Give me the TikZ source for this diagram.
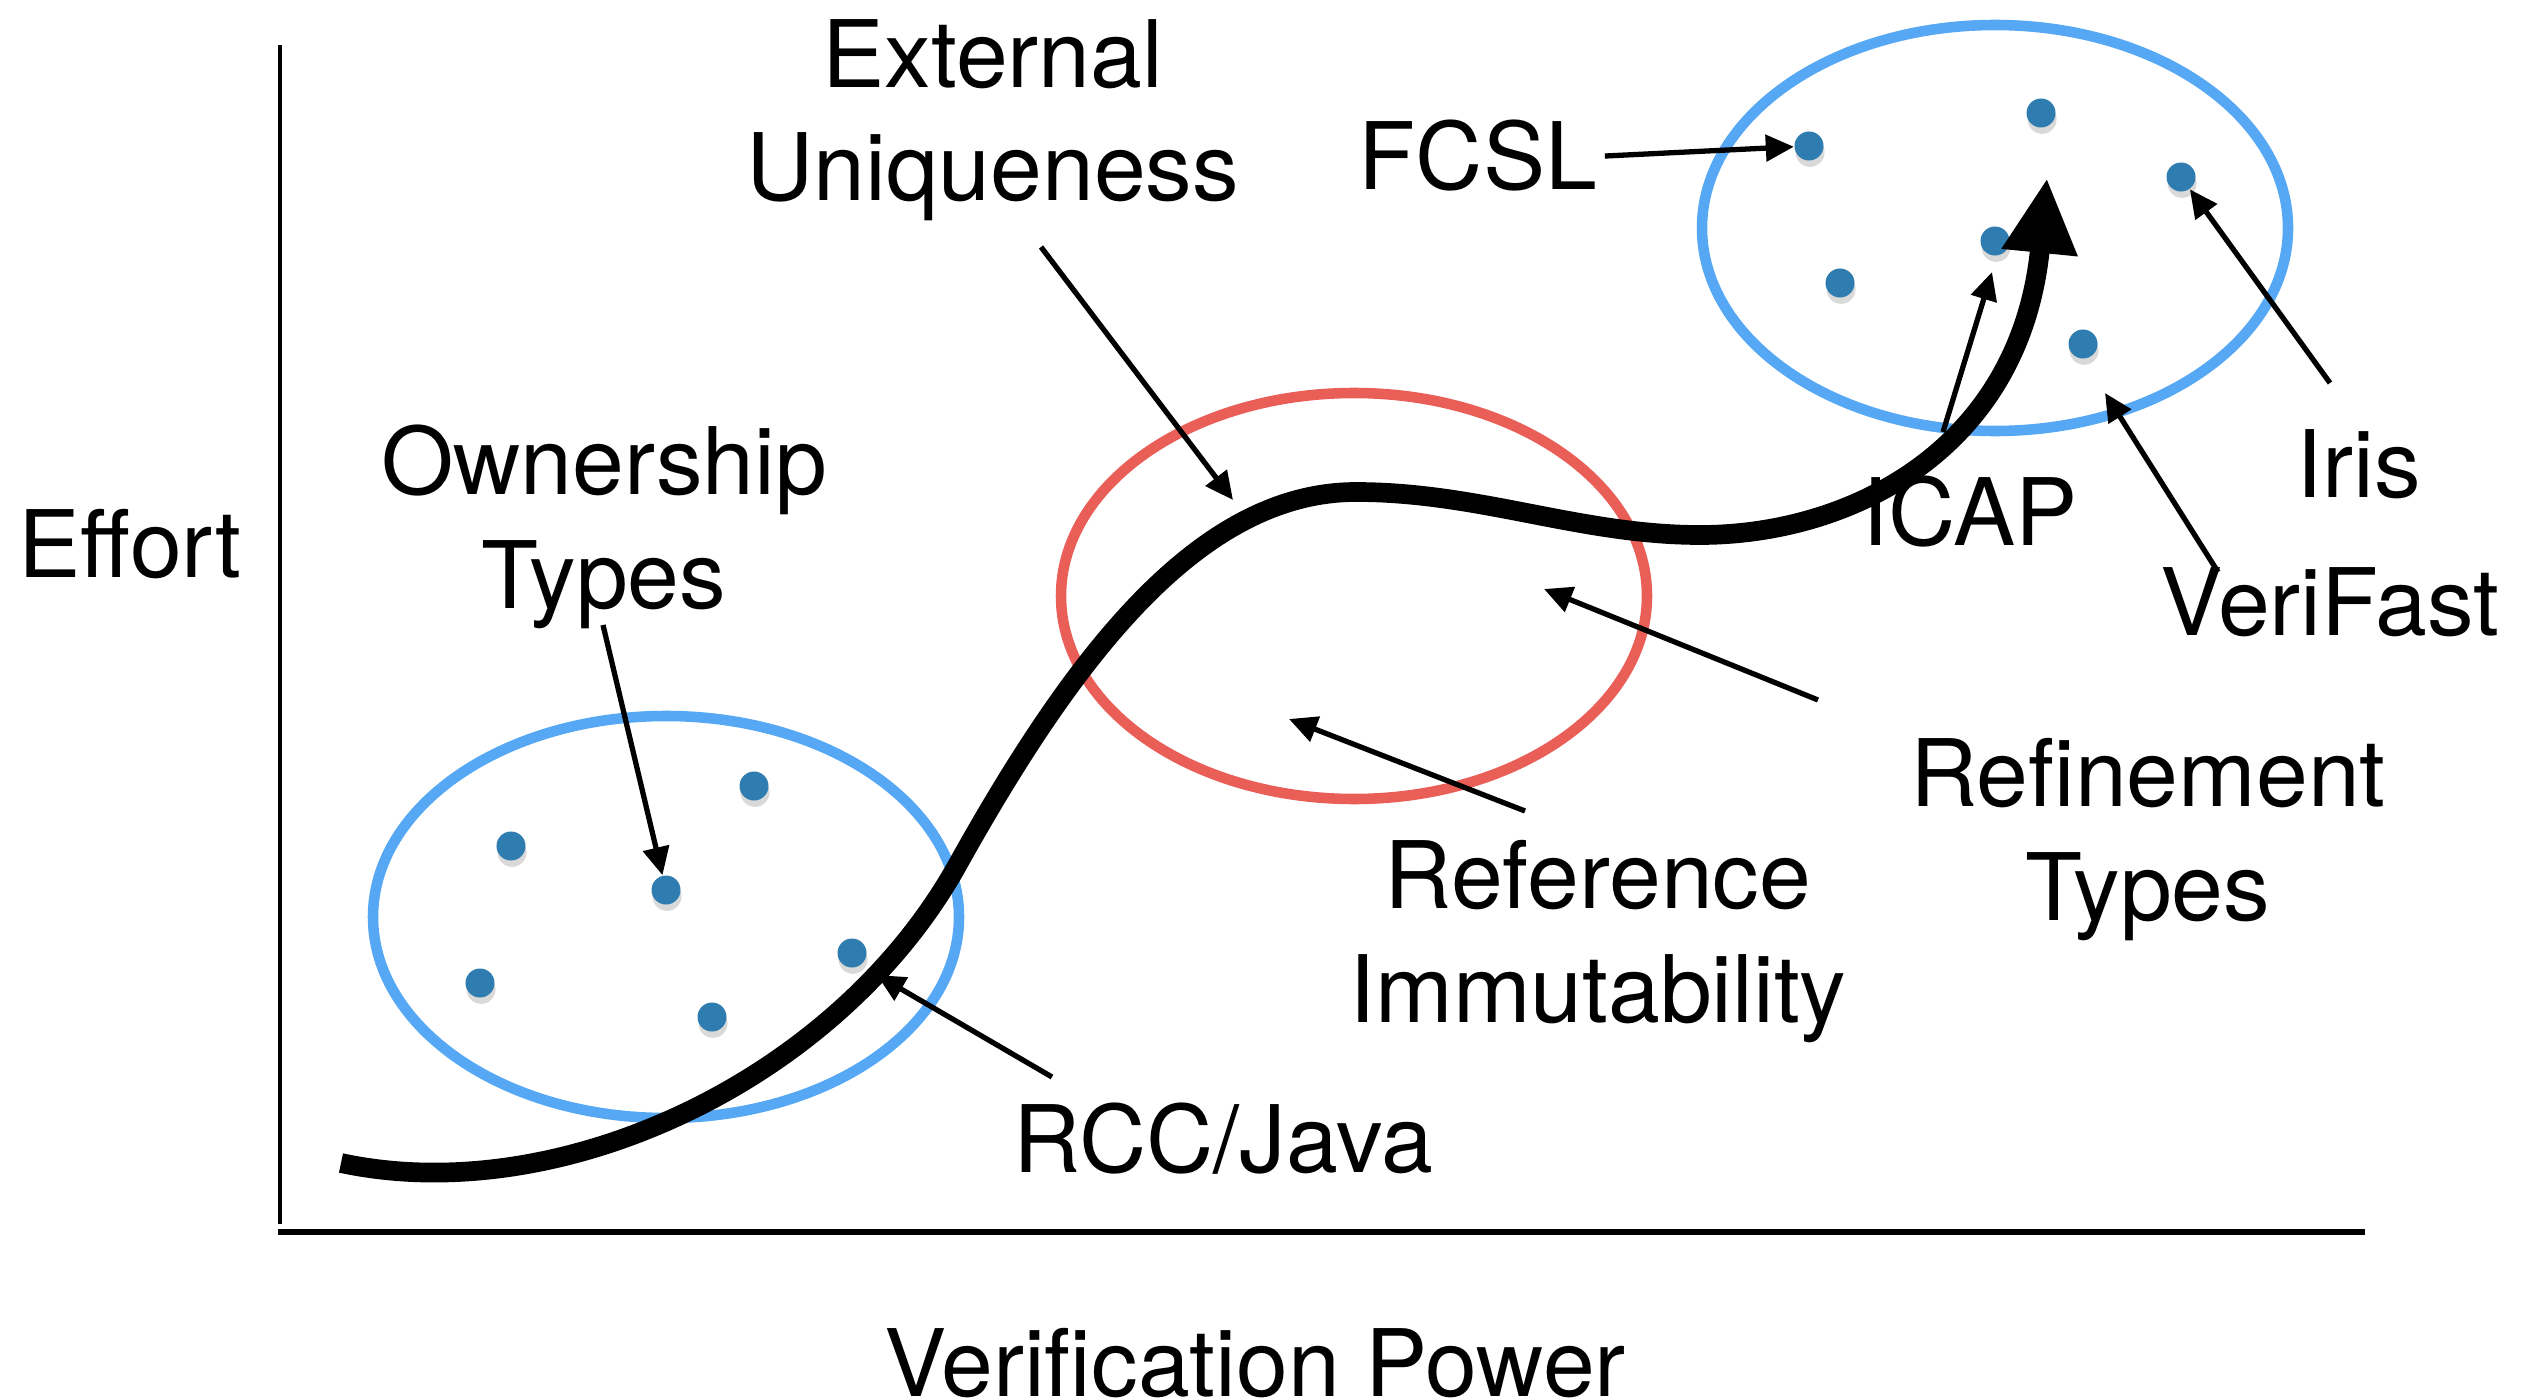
\documentclass[tikz,border=0pt]{standalone}
\usepackage{fontspec}
\setmainfont{TeX Gyre Heros}
\usetikzlibrary{arrows.meta,shadows}
\definecolor{ringblue}{RGB}{86,168,245}
\definecolor{ringred}{RGB}{234,94,88}
\definecolor{dotblue}{RGB}{46,124,176}
\begin{document}
\begin{tikzpicture}[x=0.01cm, y=-0.01cm]
	\tikzstyle{lbl} = [font=\fontsize{26.5}{32.4}\selectfont, align=center, inner sep=2pt, anchor=base]
	\tikzstyle{ring} = [line width=3pt]
	\tikzstyle{dot} = [circle, fill=dotblue, inner sep=0pt, minimum size=0.29cm, drop shadow={shadow xshift=0.3pt, shadow yshift=-1.8pt, opacity=0.3}]
	\tikzstyle{pointer} = [line width=1.5pt, -{Triangle[length=0.28cm, width=0.26cm]}]
	\useasboundingbox (0,0) rectangle (2536,1400);
	% axes
	\coordinate (O) at (280,1232);
	\coordinate (Ytop) at (280,45);
	\coordinate (Xend) at (2365,1232);
	\draw[line width=1.2pt] (Ytop) -- (280,1224);
	\draw[line width=1.5pt] (278,1232) -- (Xend);
	\node[lbl] (effort) at (130,577) {Effort};
	\node[lbl] (vpower) at (1255,1396) {Verification Power};
	% groups
	\draw[ring, ringblue] (666,917) ellipse [x radius=293, y radius=201];
	\draw[ring, ringred] (1354,596) ellipse [x radius=293, y radius=203];
	\draw[ring, ringblue] (1995,228) ellipse [x radius=293, y radius=203];
	\node[dot] (d11) at (511,846) {};
	\node[dot] (d12) at (754,786) {};
	\node[dot] (d13) at (666,890) {};
	\node[dot] (d14) at (480,983) {};
	\node[dot] (d15) at (712,1017) {};
	\node[dot] (d16) at (852,953) {};
	\node[dot] (d21) at (1809,146) {};
	\node[dot] (d22) at (2041,113) {};
	\node[dot] (d23) at (2181,177) {};
	\node[dot] (d24) at (1840,283) {};
	\node[dot] (d25) at (1995,241) {};
	\node[dot] (d26) at (2083,344) {};
	% labels (base = last line)
	\node[lbl] (ext) at (993,201) {External\\Uniqueness};
	\node[lbl] (own) at (604,608) {Ownership\\Types};
	\node[lbl] (rcc) at (1223,1172) {RCC/Java};
	\node[lbl] (fcsl) at (1478,190) {FCSL};
	\node[lbl] (icap) at (1970,545) {ICAP};
	\node[lbl] (iris) at (2359,497) {Iris};
	\node[lbl] (verifast) at (2330,635) {VeriFast};
	\node[lbl] (refine) at (2148,920) {Refinement\\Types};
	\node[lbl] (refimm) at (1598,1022) {Reference\\Immutability};
	% pointers
	\coordinate (extfrom) at (1041,247);
	\coordinate (extto) at (1233,500);
	\coordinate (ownfrom) at (603,625);
	\coordinate (rccfrom) at (1052,1077);
	\coordinate (rccto) at (877,975);
	\coordinate (icapfrom) at (1943,432);
	\coordinate (icapto) at (1992,272);
	\coordinate (irisfrom) at (2330,383);
	\coordinate (vffrom) at (2218,572);
	\coordinate (vfto) at (2105,393);
	\coordinate (reffrom) at (1818,700);
	\coordinate (refto) at (1544,589);
	\coordinate (immfrom) at (1525,811);
	\coordinate (immto) at (1289,719);
	\draw[pointer] (extfrom) -- (extto);
	\draw[pointer] (ownfrom) -- (d13);
	\draw[pointer] (rccfrom) -- (rccto);
	\draw[pointer] (fcsl.east) -- (d21);
	\draw[pointer] (icapfrom) -- (icapto);
	\draw[pointer] (irisfrom) -- (d23);
	\draw[pointer] (vffrom) -- (vfto);
	\draw[pointer] (reffrom) -- (refto);
	\draw[pointer] (immfrom) -- (immto);
	% trend
	\draw[line width=5.6pt, -{Triangle[length=0.75cm, width=0.71cm]}]
		(341,1163) .. controls (560,1210) and (838,1080) .. (958,864)
		.. controls (1075,654) and (1200,492) .. (1356,492)
		.. controls (1480,492) and (1580,535) .. (1700,535)
		.. controls (1850,535) and (2020,450) .. (2047,178);
\end{tikzpicture}
\end{document}
